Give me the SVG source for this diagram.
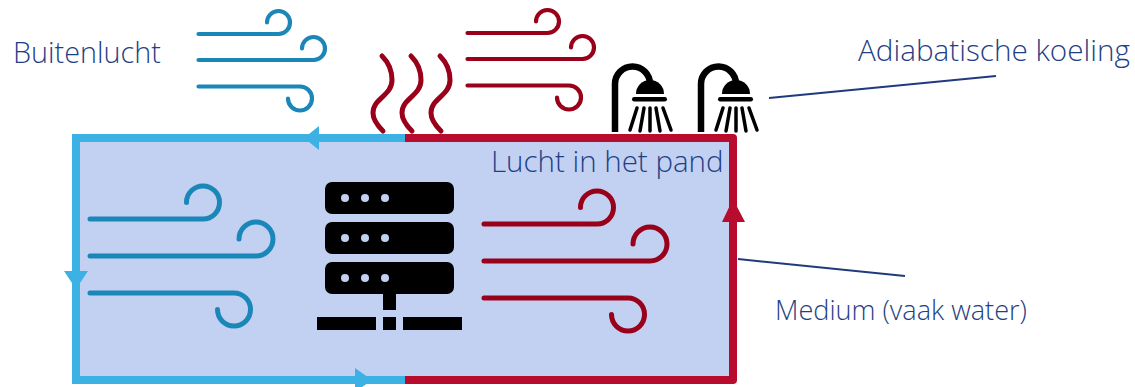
<svg xmlns="http://www.w3.org/2000/svg" width="1135" height="387" viewBox="0 0 1135 387">
<style>
.w{fill:none;stroke-width:5;stroke-linecap:round}
.n{stroke-width:4.200}
.bw{stroke:#1a87b8}
.rw{stroke:#990019}
.t{font-family:"Open Sans","Noto Sans",sans-serif;font-weight:300;fill:#1f3f85}
.s{fill:none;stroke:#000;stroke-width:3.5;stroke-linecap:round}
.l{stroke:#1f3a7d;stroke-width:2;fill:none}
</style>
<defs>
<g id="shower">
<path d="M615 132V84A17.500 17.500 0 0 1 650 84" fill="none" stroke="#000" stroke-width="6.500"/>
<path d="M636 94A14 14 0 0 1 664 94Z" fill="#000"/>
<rect x="632" y="97" width="35" height="4.500" rx="2.200" fill="#000"/>
<path class="s" d="M637 108L630 130M644 108L640 131M650 108V131M656 108L660 131M663 108L671 130"/>
</g>
<path id="wind" d="M0 0H113A16.500 16.500 0 1 0 96.500 -16.500M0 37H166A17 17 0 1 0 149 20M0 74H144A16.500 16.500 0 1 1 127.500 90.500"/>
<path id="windS" d="M0 0H80A11.500 11.500 0 1 0 68.500 -11.500M0 26H115A11.500 11.500 0 1 0 103.500 14.500M0 52.500H101.500A12 12 0 1 1 89.500 64.500"/>
</defs>
<g id="pand">
<rect x="76" y="138" width="657" height="242" fill="#c2d1f2"/>
</g>
<g id="connectors">
<path d="M405 138H733V380H405" fill="none" stroke="#b80c2e" stroke-width="8" stroke-linejoin="round"/>
<path d="M405 138H76V380H405" fill="none" stroke="#3cb1e4" stroke-width="8"/>
<path d="M304 138L319 126V150Z" fill="#3cb1e4"/>
<path d="M64 271H88L76 289Z" fill="#3cb1e4"/>
<path d="M372 380L355 368V392Z" fill="#3cb1e4"/>
<path d="M733 199L745 222H722Z" fill="#b80c2e"/>
<path class="l" d="M769 98L996 76"/>
<path class="l" d="M738 259L905 276"/>
</g>
<g id="buitenlucht">
<use href="#windS" x="198.500" y="34" class="w n bw"/>
<text class="t" x="13" y="63" font-size="28.800">Buitenlucht</text>
</g>
<g id="warme-lucht">
<use href="#windS" x="467.500" y="33" class="w n rw"/>
</g>
<g id="warmte" class="w rw">
<path d="M382 56C388 62 392 70 392 80C392 96 373 98 373 113C373 120 378 126 383 131"/>
<path d="M411 56C417 62 421 70 421 80C421 96 402 98 402 113C402 120 407 126 412 131"/>
<path d="M440 56C446 62 450 70 450 80C450 96 431 98 431 113C431 120 436 126 441 131"/>
</g>
<g id="douche-1"><use href="#shower"/></g>
<g id="douche-2"><use href="#shower" x="86"/></g>
<g id="adiabatisch"><text class="t" x="858" y="61" font-size="29.700">Adiabatische koeling</text></g>
<g id="lucht-in-pand"><text class="t" x="491" y="172" font-size="29.500">Lucht in het pand</text></g>
<g id="wind-koud"><use href="#wind" x="90" y="219" class="w bw"/></g>
<g id="wind-warm"><use href="#wind" x="484" y="224" class="w rw"/></g>
<g id="server">
<rect x="325" y="182" width="129" height="32" rx="7" fill="#000"/>
<rect x="325" y="222" width="129" height="32" rx="7" fill="#000"/>
<rect x="325" y="262" width="129" height="32" rx="7" fill="#000"/>
<g fill="#c2d1f2">
<circle cx="345" cy="198" r="4"/><circle cx="365" cy="198" r="4"/><circle cx="385" cy="198" r="4"/>
<circle cx="345" cy="238" r="4"/><circle cx="365" cy="238" r="4"/><circle cx="385" cy="238" r="4"/>
<circle cx="345" cy="278" r="4"/><circle cx="365" cy="278" r="4"/><circle cx="385" cy="278" r="4"/>
</g>
<rect x="383" y="294" width="13" height="16" fill="#000"/>
<rect x="317" y="317" width="59" height="13" fill="#000"/>
<rect x="383" y="317" width="13" height="13" fill="#000"/>
<rect x="403" y="317" width="59" height="13" fill="#000"/>
</g>
<g id="medium"><text class="t" x="775" y="320" font-size="27.100">Medium (vaak water)</text></g>
</svg>
